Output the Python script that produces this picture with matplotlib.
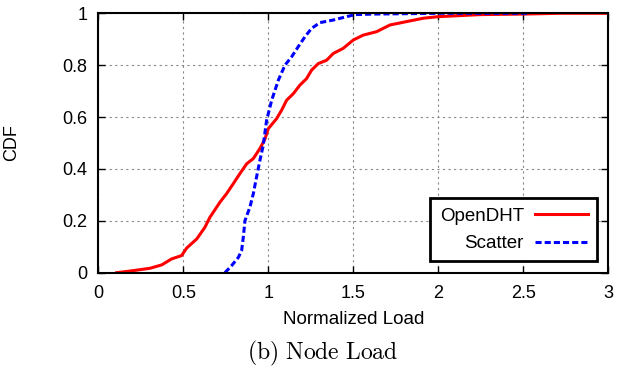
import numpy as np
import matplotlib
matplotlib.use("Agg")
import matplotlib.pyplot as plt

plt.rcParams['font.family'] = ['Liberation Sans', 'DejaVu Sans']
plt.rcParams['mathtext.fontset'] = 'cm'

# OpenDHT CDF
opendht_x = [0.108, 0.206, 0.304, 0.373, 0.431, 0.49, 0.52, 0.579, 0.627, 0.657, 0.716,
             0.755, 0.794, 0.833, 0.873, 0.912, 0.951, 0.98, 1.0, 1.049, 1.078, 1.108,
             1.147, 1.186, 1.225, 1.255, 1.294, 1.343, 1.382, 1.441, 1.5, 1.559, 1.637,
             1.716, 1.814, 1.912, 2.0, 2.25, 2.5, 2.72, 3.0]
opendht_y = [0.0, 0.008, 0.017, 0.03, 0.053, 0.066, 0.095, 0.13, 0.175, 0.214, 0.272,
             0.305, 0.343, 0.382, 0.42, 0.44, 0.479, 0.515, 0.555, 0.594, 0.626, 0.665,
             0.69, 0.723, 0.748, 0.781, 0.806, 0.819, 0.845, 0.865, 0.897, 0.916, 0.929,
             0.955, 0.968, 0.981, 0.987, 0.995, 0.997, 1.0, 1.0]

# Scatter CDF
scatter_x = [0.745, 0.784, 0.824, 0.843, 0.853, 0.863, 0.892, 0.912, 0.931, 0.951, 0.97,
             0.99, 1.02, 1.059, 1.098, 1.137, 1.176, 1.216, 1.255, 1.304, 1.382, 1.461,
             1.51, 1.618, 2.01, 2.54]
scatter_y = [0.0, 0.027, 0.059, 0.085, 0.137, 0.201, 0.253, 0.305, 0.369, 0.434, 0.49,
             0.587, 0.665, 0.742, 0.80, 0.832, 0.871, 0.91, 0.942, 0.964, 0.974, 0.987,
             0.995, 0.997, 1.0, 1.0]

xticks = [0, 0.5, 1, 1.5, 2, 2.5, 3]
yticks = [0, 0.2, 0.4, 0.6, 0.8, 1]

fig = plt.figure(figsize=(6.21, 3.68), dpi=100)
ax = fig.add_axes([0.1583, 0.259, 0.8212, 0.7049])

ax.plot(opendht_x, opendht_y, '-', color='#ff0000', lw=2.2, label='OpenDHT')
ax.plot(scatter_x, scatter_y, '--', color='#0000ff', lw=2.2, dashes=(2, 1), label='Scatter')

ax.set_xlim(0, 3)
ax.set_ylim(0, 1)
ax.set_xticks(xticks)
ax.set_xticklabels(['0', '0.5', '1', '1.5', '2', '2.5', '3'])
ax.set_yticks(yticks)
ax.set_yticklabels(['0', '0.2', '0.4', '0.6', '0.8', '1'])
ax.tick_params(direction='in', top=True, right=True, length=5, width=1, labelsize=13)
ax.tick_params(axis='x', pad=9)
ax.tick_params(axis='y', pad=8)
ax.grid(True, color='#888888', linestyle=(0, (2, 3)), lw=0.8)
for s in ax.spines.values():
    s.set_linewidth(1.5)

ax.set_xlabel('Normalized Load', fontsize=13.5, labelpad=6)
ax.set_ylabel('CDF', fontsize=13)
ax.yaxis.set_label_coords(-0.153, 0.5)

leg = ax.legend(loc='lower right', markerfirst=False, fontsize=13.5, handlelength=2.8,
                fancybox=False, framealpha=1, edgecolor='black', borderaxespad=0.6,
                labelspacing=0.55, borderpad=0.5, handletextpad=0.6)
leg.get_frame().set_linewidth(2)

fig.text(0.519, 0.040, r'$\mathrm{(b)\ Node\ Load}$', ha='center', va='center', fontsize=17)

fig.savefig('out.png', dpi=100)
